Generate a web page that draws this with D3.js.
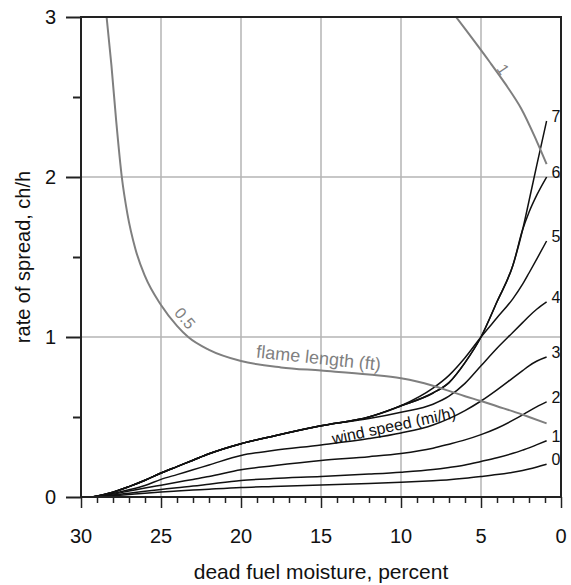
<!DOCTYPE html>
<html><head><meta charset="utf-8">
<script src="https://cdn.jsdelivr.net/npm/d3@7"></script>
<style>
html,body{margin:0;padding:0;background:#fff;}
text{font-family:"Liberation Sans",Arial,sans-serif;}
</style></head>
<body>
<svg id="chart" width="571" height="585"></svg>
<script>
// ---------- data ----------
const xTicks = [30, 25, 20, 15, 10, 5, 0];
const yTicks = [0, 1, 2, 3];
const windLabels = ["0","1","2","3","4","5","6","7"];
const windX = [29.3, 28, 27, 26, 25, 24, 23, 22, 20, 18, 15, 12, 10, 8, 7, 6, 5, 4, 3, 2.4, 2, 1.5, 0.9];
const wind0 = [0, 0.008, 0.016, 0.024, 0.031, 0.037, 0.043, 0.049, 0.060, 0.066, 0.075, 0.084, 0.092, 0.102, 0.108, 0.117, 0.128, 0.140, 0.155, 0.166, 0.175, 0.188, 0.205];
const wind1 = [0, 0.012, 0.024, 0.036, 0.047, 0.058, 0.068, 0.080, 0.103, 0.115, 0.128, 0.143, 0.155, 0.172, 0.185, 0.200, 0.222, 0.245, 0.273, 0.293, 0.307, 0.327, 0.352];
const wind2 = [0, 0.018, 0.037, 0.056, 0.074, 0.092, 0.110, 0.128, 0.170, 0.195, 0.228, 0.252, 0.272, 0.305, 0.330, 0.357, 0.390, 0.430, 0.480, 0.513, 0.537, 0.565, 0.595];
const wind3 = [0, 0.022, 0.045, 0.072, 0.110, 0.140, 0.170, 0.200, 0.260, 0.290, 0.325, 0.365, 0.400, 0.450, 0.490, 0.540, 0.600, 0.670, 0.745, 0.790, 0.820, 0.850, 0.875];
const wind4 = [0, 0.030, 0.065, 0.105, 0.150, 0.190, 0.230, 0.270, 0.333, 0.380, 0.445, 0.490, 0.530, 0.580, 0.630, 0.710, 0.820, 0.930, 1.030, 1.090, 1.130, 1.175, 1.220];
const wind5 = [0, 0.030, 0.065, 0.105, 0.150, 0.190, 0.230, 0.270, 0.333, 0.380, 0.445, 0.500, 0.570, 0.680, 0.760, 0.870, 1.000, 1.120, 1.240, 1.330, 1.400, 1.490, 1.600];
const wind6 = [0, 0.030, 0.065, 0.105, 0.150, 0.190, 0.230, 0.270, 0.333, 0.380, 0.445, 0.500, 0.570, 0.650, 0.715, 0.840, 1.000, 1.220, 1.450, 1.670, 1.780, 1.890, 2.000];
const wind7 = [0, 0.030, 0.065, 0.105, 0.150, 0.190, 0.230, 0.270, 0.333, 0.380, 0.445, 0.500, 0.570, 0.650, 0.715, 0.840, 1.000, 1.220, 1.450, 1.670, 1.850, 2.080, 2.350];
const flameHalfX = [28.4, 28.1, 27.8, 27.45, 27.1, 26.6, 26.0, 25.0, 24.0, 23.3, 22.0, 20.0, 17.5, 15.0, 12.0, 10.0, 9.0, 8.0, 7.0, 6.0, 5.0, 4.0, 3.0, 2.0, 0.9];
const flameHalfY = [3.0, 2.7, 2.35, 2.0, 1.77, 1.55, 1.38, 1.2, 1.07, 1.0, 0.92, 0.85, 0.81, 0.79, 0.765, 0.742, 0.722, 0.695, 0.663, 0.63, 0.6, 0.567, 0.535, 0.5, 0.46];
const flameOneX = [6.56, 5.5, 4.5, 3.5, 2.5, 1.5, 0.9];
const flameOneY = [3.0, 2.86, 2.725, 2.585, 2.43, 2.22, 2.08];

// ---------- layout ----------
const svg = d3.select("#chart");
const L = 81, R = 561, T = 17, B = 497;
const x = d3.scaleLinear().domain([30, 0]).range([L, R]);
const y = d3.scaleLinear().domain([0, 3]).range([B, T]);

svg.append("defs").append("clipPath").attr("id","clip")
  .append("rect").attr("x",L).attr("y",T).attr("width",R-L).attr("height",B-T);

// grid
const grid = svg.append("g").attr("stroke","#b4b4b4").attr("stroke-width",1.5);
[25,20,15,10,5].forEach(v => grid.append("line").attr("x1",x(v)).attr("x2",x(v)).attr("y1",T).attr("y2",B));
[1,2].forEach(v => grid.append("line").attr("x1",L).attr("x2",R).attr("y1",y(v)).attr("y2",y(v)));

// curves
const line = d3.line().x(d => x(d[0])).y(d => y(d[1])).curve(d3.curveMonotoneX);
const smooth = d3.line().x(d => x(d[0])).y(d => y(d[1])).curve(d3.curveCatmullRom.alpha(0.5));
const plot = svg.append("g").attr("clip-path","url(#clip)");
const windSeries = [wind0, wind1, wind2, wind3, wind4, wind5, wind6, wind7];
windSeries.forEach(s => {
  plot.append("path").datum(windX.map((v,i)=>[v, s[i]]))
    .attr("d", line).attr("fill","none").attr("stroke","#111").attr("stroke-width",1.5);
});
plot.append("path").datum(flameHalfX.map((v,i)=>[v, flameHalfY[i]]))
  .attr("d", line).attr("fill","none").attr("stroke","#7f7f7f").attr("stroke-width",2);
plot.append("path").datum(flameOneX.map((v,i)=>[v, flameOneY[i]]))
  .attr("d", smooth).attr("fill","none").attr("stroke","#7f7f7f").attr("stroke-width",2);

// wind labels
windSeries.forEach((s, i) => {
  const ex = windX[windX.length-1], ey = s[s.length-1];
  svg.append("text").attr("x", x(ex)+5).attr("y", y(ey)+1)
    .attr("font-size",16).attr("fill","#111").text(windLabels[i]);
});

// annotations
svg.append("text").attr("transform","translate(395,431) rotate(-12)")
  .attr("text-anchor","middle").attr("font-size",16).attr("fill","#111").text("wind speed (mi/h)");
svg.append("text").attr("transform","translate(318,364) rotate(6)")
  .attr("text-anchor","middle").attr("font-size",18).attr("fill","#7f7f7f").text("flame length (ft)");
svg.append("text").attr("transform","translate(184,319) rotate(50)")
  .attr("text-anchor","middle").attr("dominant-baseline","middle").attr("font-size",16).attr("fill","#7f7f7f").text("0.5");
svg.append("text").attr("transform","translate(502,70) rotate(56)")
  .attr("text-anchor","middle").attr("dominant-baseline","middle").attr("font-size",16).attr("fill","#7f7f7f").text("1");

// axes
const xAxis = d3.axisBottom(x).tickValues(d3.range(0, 31, 1)).tickSize(6).tickFormat("");
const gx = svg.append("g").attr("transform",`translate(0,${B})`).call(xAxis);
gx.selectAll(".tick line").attr("stroke","#222").attr("stroke-width",1.5)
  .attr("y2", d => d % 5 === 0 ? 11 : 6);
gx.select(".domain").remove();
xTicks.forEach(v => svg.append("text").attr("x", x(v)).attr("y", 543)
  .attr("text-anchor","middle").attr("font-size",20).attr("fill","#111").text(v));

const yAxis = d3.axisLeft(y).tickValues(d3.range(0, 3.01, 0.5)).tickFormat("");
const gy = svg.append("g").attr("transform",`translate(${L},0)`).call(yAxis);
gy.selectAll(".tick line").attr("stroke","#222").attr("stroke-width",2)
  .attr("x2", d => Number.isInteger(d) ? -15 : -8);
gy.select(".domain").remove();
yTicks.forEach(v => svg.append("text").attr("x", 56).attr("y", y(v)+7)
  .attr("text-anchor","end").attr("font-size",20).attr("fill","#111").text(v));

// frame
svg.append("rect").attr("x",L).attr("y",T).attr("width",R-L).attr("height",B-T)
  .attr("fill","none").attr("stroke","#222").attr("stroke-width",2);

// titles
svg.append("text").attr("x",(L+R)/2).attr("y",579).attr("text-anchor","middle")
  .attr("font-size",21).attr("fill","#111").text("dead fuel moisture, percent");
svg.append("text").attr("transform",`translate(30,${(T+B)/2}) rotate(-90)`).attr("text-anchor","middle")
  .attr("font-size",20).attr("fill","#111").text("rate of spread, ch/h");
</script>
</body></html>
